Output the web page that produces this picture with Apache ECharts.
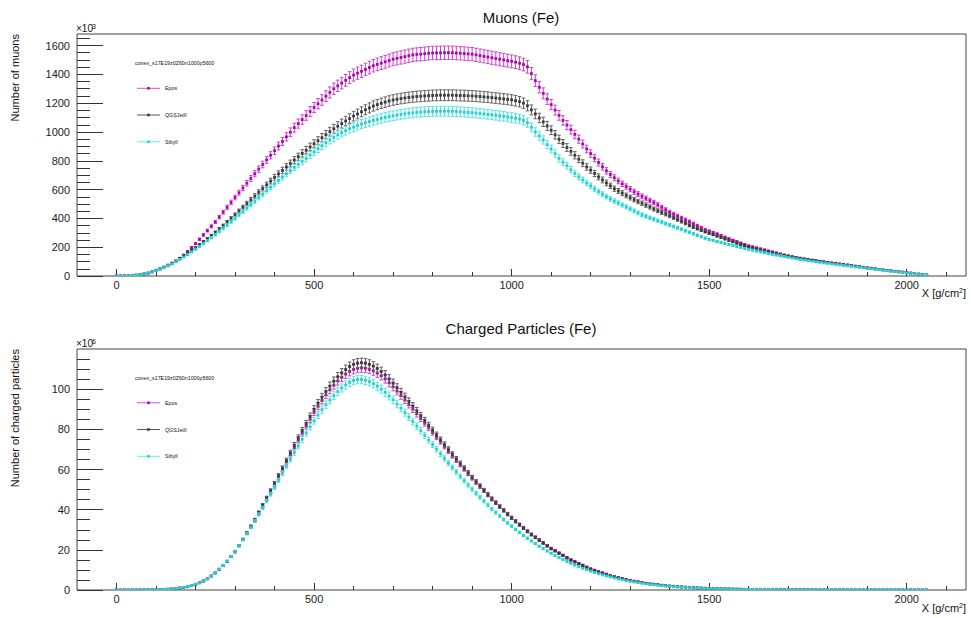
<!DOCTYPE html>
<html><head><meta charset="utf-8">
<script src="https://cdn.jsdelivr.net/npm/echarts@6/dist/echarts.min.js"></script>
<style>html,body{margin:0;padding:0;background:#fff}#c{width:971px;height:618px}</style>
</head><body><div id="c"></div>
<script>
// ---------------- data ----------------
const depth = [
0,10,20,30,40,50,60,70,80,90,100,110,120,130,140,150,160,170,180,190,
200,210,220,230,240,250,260,270,280,290,300,310,320,330,340,350,360,370,380,390,
400,410,420,430,440,450,460,470,480,490,500,510,520,530,540,550,560,570,580,590,
600,610,620,630,640,650,660,670,680,690,700,710,720,730,740,750,760,770,780,790,
800,810,820,830,840,850,860,870,880,890,900,910,920,930,940,950,960,970,980,990,
1000,1010,1020,1030,1040,1050,1060,1070,1080,1090,1100,1110,1120,1130,1140,1150,1160,1170,1180,1190,
1200,1210,1220,1230,1240,1250,1260,1270,1280,1290,1300,1310,1320,1330,1340,1350,1360,1370,1380,1390,
1400,1410,1420,1430,1440,1450,1460,1470,1480,1490,1500,1510,1520,1530,1540,1550,1560,1570,1580,1590,
1600,1610,1620,1630,1640,1650,1660,1670,1680,1690,1700,1710,1720,1730,1740,1750,1760,1770,1780,1790,
1800,1810,1820,1830,1840,1850,1860,1870,1880,1890,1900,1910,1920,1930,1940,1950,1960,1970,1980,1990,
2000,2010,2020,2030,2040,2050];

// muons, units of 10^3
const muEpos = [
0,0.5,1.5,3,4.5,6,9,14,20,28, 38,48,59,71,85,100,122,145,170,197,
225,255,285,315,345,375,409,443,477,511, 545,578,611,644,677,710,742,774,806,838,
870,902,934,966,998,1030,1058,1086,1114,1142, 1170,1196,1222,1248,1274,1300,1320,1339,1358,1377,
1395,1408,1421,1434,1447,1460,1469,1478,1487,1496, 1505,1511,1517,1523,1529,1535,1538,1540,1543,1546,
1548,1549,1549,1550,1550,1550,1548,1546,1544,1542, 1540,1535,1530,1525,1520,1515,1510,1505,1500,1495,
1490,1484,1477,1468,1452,1405,1356,1310,1268,1228, 1190,1152,1115,1080,1048,1016,983,950,916,882,
850,818,788,758,730,705,682,660,640,621, 603,585,568,553,539,524,510,494,477,460,
443,429,416,403,390,377,363,349,335,321, 311,301,291,280,269,258,248,238,228,218,
209,202,195,188,181,174,167,160,153,146, 140,134,129,124,119,115,111,107,103,99,
95,91,88,84,80,77,73,69,65,61, 57,54,50,46,42,39,36,33,30,27,
24,20,17,13,10,7];
const muQGS = [
0,0.3,1,2,3.5,6,9,14,20,29, 40,51,63,76,90,105,123,141,159,178,
197,217,238,259,281,303,326,350,375,400, 425,451,477,503,529,555,581,607,633,659,
685,709,733,757,781,805,828,851,873,896, 918,939,960,981,1002,1022,1040,1058,1076,1093,
1110,1125,1140,1154,1167,1180,1190,1199,1207,1215, 1222,1227,1232,1236,1240,1243,1246,1248,1250,1252,
1253,1254,1255,1255,1255,1255,1254,1253,1252,1251, 1250,1248,1246,1243,1241,1238,1235,1232,1229,1226,
1222,1217,1210,1200,1182,1153,1125,1097,1070,1042, 1012,980,949,920,892,865,838,811,783,757,
735,712,688,667,646,626,606,590,575,559, 544,530,517,505,492,479,465,453,441,430,
418,405,392,379,366,352,340,329,318,308, 298,288,278,268,258,248,238,229,220,211,
202,195,188,181,174,167,161,155,149,143, 137,132,127,122,117,113,109,105,101,97,
93,89,86,82,78,75,71,67,64,60, 56,53,49,46,42,39,35,32,29,26,
23,20,17,13,10,7];
const muSibyll = [
0,0.3,1,2,3.5,6,9,14,20,28, 38,49,60,72,85,99,115,132,149,167,
186,205,225,245,266,287,309,331,354,377, 400,424,448,472,496,520,545,569,593,617,
641,664,687,710,732,754,775,796,817,840, 862,884,905,925,945,963,980,995,1009,1022,
1034,1045,1055,1064,1072,1080,1087,1094,1101,1107, 1112,1117,1122,1126,1130,1133,1136,1138,1140,1142,
1143,1144,1144,1144,1144,1143,1142,1140,1138,1136, 1134,1131,1128,1125,1122,1119,1116,1112,1108,1104,
1100,1095,1089,1080,1064,1032,1000,972,944,912, 882,850,816,790,766,738,712,688,667,645,
626,605,586,568,551,535,520,507,493,480, 466,452,438,426,414,404,394,384,374,364,
354,344,334,324,314,303,293,283,273,263, 254,247,240,233,226,219,212,205,198,191,
185,179,173,167,161,155,150,145,140,135, 130,125,120,115,111,107,103,99,95,91,
87,84,80,77,73,70,67,63,60,57, 53,50,47,44,40,37,34,31,28,25,
22,19,16,12,9,6];

// charged particles, units of 10^6
const chEpos = [
0,0,0,0,0,0.01,0.02,0.03,0.05,0.08, 0.12,0.18,0.27,0.38,0.53,0.72,0.97,1.3,1.7,2.2,
2.8,3.6,4.5,5.6,7.0,8.5,10.3,12.2,14.3,16.6, 19.0,22.0,25.1,28.2,31.5,34.8,38.3,41.9,45.5,49.1,
52.7,56.4,60.1,63.8,67.5,71.2,74.8,78.3,81.8,85.2, 88.6,91.6,94.5,97.2,99.7,102.0,104.1,105.9,107.5,108.8,
109.8,110.4,110.6,110.4,109.9,109.1,108.0,106.7,105.1,103.2, 101.2,99.1,96.9,94.7,92.5,90.2,87.9,85.6,83.3,81.0,
78.7,76.4,74.1,71.7,69.4,67.0,64.8,62.6,60.4,58.1, 55.9,53.8,51.7,49.6,47.5,45.4,43.5,41.6,39.7,37.9,
36.1,34.4,32.7,31.0,29.4,27.8,26.4,25.0,23.6,22.2, 20.8,19.7,18.5,17.4,16.2,15.1,14.2,13.3,12.4,11.5,
10.6,9.9,9.2,8.6,7.9,7.2,6.7,6.2,5.7,5.3, 4.8,4.4,4.1,3.8,3.4,3.1,2.9,2.7,2.4,2.2,
2.0,1.85,1.7,1.55,1.4,1.26,1.16,1.06,0.97,0.88, 0.79,0.73,0.67,0.61,0.55,0.5,0.46,0.42,0.38,0.35,
0.31,0.29,0.26,0.24,0.21,0.19,0.18,0.16,0.15,0.13, 0.12,0.11,0.1,0.09,0.08,0.07,0.07,0.06,0.05,0.05,
0.04,0.04,0.03,0.03,0.03,0.02,0.02,0.02,0.02,0.02, 0.01,0.01,0.01,0.01,0.01,0.01,0.01,0.01,0.01,0.01,
0.01,0,0,0,0,0];
const chQGS = [
0,0,0,0,0,0.01,0.02,0.03,0.05,0.08, 0.12,0.18,0.27,0.38,0.53,0.72,0.97,1.3,1.7,2.2,
2.8,3.6,4.5,5.6,7.0,8.5,10.3,12.2,14.3,16.6, 19.0,22.1,25.3,28.4,31.7,35.0,38.6,42.2,45.8,49.4,
53.0,56.8,60.6,64.4,68.2,72.0,75.7,79.3,82.8,86.4, 90.0,93.0,96.0,98.8,101.5,104.0,106.2,108.1,109.8,111.3,
112.4,113.0,113.2,113.0,112.4,111.5,110.3,108.8,107.1,105.1, 103.0,100.7,98.4,96.1,93.8,91.5,89.1,86.7,84.3,81.9,
79.5,77.1,74.7,72.3,69.9,67.5,65.2,62.9,60.6,58.3, 56.0,53.8,51.7,49.6,47.4,45.3,43.4,41.5,39.6,37.7,
35.8,34.1,32.4,30.8,29.1,27.5,26.1,24.7,23.3,21.9, 20.5,19.4,18.2,17.1,15.9,14.8,13.9,13.0,12.1,11.2,
10.3,9.6,9.0,8.3,7.7,7.0,6.5,6.0,5.6,5.1, 4.6,4.3,4.0,3.6,3.3,3.0,2.8,2.6,2.3,2.1,
1.9,1.76,1.62,1.48,1.34,1.2,1.11,1.02,0.93,0.84, 0.75,0.69,0.64,0.58,0.53,0.47,0.43,0.4,0.36,0.33,
0.29,0.27,0.25,0.22,0.2,0.18,0.17,0.15,0.14,0.12, 0.11,0.1,0.09,0.08,0.08,0.07,0.06,0.05,0.05,0.04,
0.04,0.03,0.03,0.03,0.03,0.02,0.02,0.02,0.02,0.02, 0.01,0.01,0.01,0.01,0.01,0.01,0.01,0.01,0.01,0.01,
0.01,0,0,0,0,0];
const chSibyll = [
0,0,0,0,0,0.01,0.02,0.03,0.05,0.08, 0.13,0.19,0.28,0.4,0.55,0.75,1.0,1.35,1.75,2.25,
2.9,3.7,4.6,5.7,7.1,8.6,10.4,12.3,14.4,16.7, 19.1,22.0,25.0,28.0,31.1,34.3,37.6,40.9,44.3,47.7,
51.1,54.6,58.1,61.6,65.0,68.4,71.7,75.0,78.2,81.3, 84.3,87.1,89.8,92.3,94.6,96.8,98.8,100.6,102.1,103.4,
104.3,104.8,104.8,104.4,103.7,102.7,101.5,100.0,98.4,96.6, 94.7,92.6,90.5,88.3,86.1,83.9,81.6,79.3,77.0,74.7,
72.4,70.1,67.8,65.5,63.2,61.0,58.8,56.6,54.4,52.3, 50.2,48.2,46.2,44.2,42.3,40.4,38.6,36.8,35.1,33.4,
31.8,30.2,28.7,27.2,25.8,24.4,23.1,21.8,20.6,19.4, 18.3,17.2,16.2,15.2,14.2,13.3,12.4,11.6,10.8,10.1,
9.4,8.7,8.1,7.5,7.0,6.5,6.0,5.5,5.1,4.7, 4.3,4.0,3.7,3.4,3.1,2.8,2.6,2.4,2.2,2.0,
1.8,1.65,1.5,1.38,1.26,1.15,1.05,0.96,0.87,0.79, 0.72,0.66,0.6,0.55,0.5,0.45,0.41,0.38,0.34,0.31,
0.28,0.26,0.23,0.21,0.19,0.17,0.16,0.14,0.13,0.12, 0.11,0.1,0.09,0.08,0.07,0.07,0.06,0.05,0.05,0.04,
0.04,0.03,0.03,0.03,0.02,0.02,0.02,0.02,0.02,0.02, 0.01,0.01,0.01,0.01,0.01,0.01,0.01,0.01,0.01,0.01,
0.01,0,0,0,0,0];

// relative uncertainty of each model
const relErrMuons = [0.03, 0.03, 0.03];
const relErrCharged = [0.02, 0.02, 0.02];

const modelNames = ['Epos', 'QGSJetII', 'Sibyll'];
const legendHeader = 'conex_s17E19z0Z60n1000p5600';

// tick labels / tick positions
const xMajorTicks = [0, 500, 1000, 1500, 2000];
const xMinorTicks = [100,200,300,400,600,700,800,900,1100,1200,1300,1400,1600,1700,1800,1900,2100];
const muMajorTicks = [0,200,400,600,800,1000,1200,1400,1600];
const muMinorTicks = [50,100,150,250,300,350,450,500,550,650,700,750,850,900,950,1050,1100,1150,1250,1300,1350,1450,1500,1550,1650];
const chMajorTicks = [0,20,40,60,80,100];
const chMinorTicks = [5,10,15,25,30,35,45,50,55,65,70,75,85,90,95,105,110,115];

// ---------------- styles / layout ----------------
const FONT = '"Liberation Sans", Arial, Helvetica, sans-serif';
const markColors = ['#b000b0', '#3a3a3a', '#20d0d0'];
const barColors  = ['#cc40cc', '#606060', '#50e4e4'];
const legendLineColors = ['#d050d0', '#555555', '#60eeee'];
const G = [{left:77, top:34, width:889, height:242}, {left:77, top:349, width:889, height:241}];
const plainNum = v => String(v);

function errRender(mc, bc) {
  return function (params, api) {
    const p = api.coord([api.value(0), api.value(1)]);
    const lo = api.coord([api.value(0), api.value(2)]);
    const hi = api.coord([api.value(0), api.value(3)]);
    const cw = 1.8;
    const children = [
      {type:'line', shape:{x1:p[0], y1:lo[1], x2:p[0], y2:hi[1]}, style:{stroke:bc, lineWidth:1}},
      {type:'line', shape:{x1:p[0]-cw, y1:lo[1], x2:p[0]+cw, y2:lo[1]}, style:{stroke:bc, lineWidth:1}},
      {type:'line', shape:{x1:p[0]-cw, y1:hi[1], x2:p[0]+cw, y2:hi[1]}, style:{stroke:bc, lineWidth:1}},
      {type:'rect', shape:{x:p[0]-1.4, y:p[1]-1.4, width:2.8, height:2.8}, style:{fill:mc}}
    ];
    return {type:'group', children};
  };
}

function mkSeries(k, vals, rel, xi, yi) {
  return {
    type:'custom', name:modelNames[k], xAxisIndex:xi, yAxisIndex:yi, clip:true,
    data: depth.map((x, i) => [x, vals[i], vals[i]*(1-rel), vals[i]*(1+rel)]),
    encode:{x:0, y:[1,2,3]},
    renderItem: errRender(markColors[k], barColors[k])
  };
}

function xAxes(g) {
  const base = {gridIndex:g, type:'value', min:-100, max:2150, position:'bottom',
    axisLine:{show:false, onZero:false}, splitLine:{show:false}};
  return [
    Object.assign({}, base, {
      axisTick:{show:true, inside:true, length:7, customValues:xMajorTicks, lineStyle:{color:'#333', width:1}},
      axisLabel:{show:true, customValues:xMajorTicks, formatter:plainNum, margin:3, color:'#222', fontSize:11, fontFamily:FONT}
    }),
    Object.assign({}, base, {
      axisTick:{show:true, inside:true, length:4, customValues:xMinorTicks, lineStyle:{color:'#333', width:1}},
      axisLabel:{show:false}
    })
  ];
}
function yAxes(g, max, major, minor) {
  const base = {gridIndex:g, type:'value', min:0, max:max, position:'left',
    axisLine:{show:false, onZero:false}, splitLine:{show:false}};
  return [
    Object.assign({}, base, {
      axisTick:{show:true, inside:true, length:26, customValues:major, lineStyle:{color:'#333', width:1}},
      axisLabel:{show:true, customValues:major, formatter:plainNum, margin:7, color:'#222', fontSize:11, fontFamily:FONT}
    }),
    Object.assign({}, base, {
      axisTick:{show:true, inside:true, length:13, customValues:minor, lineStyle:{color:'#333', width:1}},
      axisLabel:{show:false}
    })
  ];
}

function legend(oy) {
  const els = [{type:'text', x:135, y:63+oy, style:{text:legendHeader, font:'5.3px '+FONT, fill:'#111', align:'left', verticalAlign:'middle', textAlign:'left', textVerticalAlign:'middle'}}];
  const ys = [88.3, 115, 141.8];
  modelNames.forEach((n, k) => {
    const y = ys[k] + oy;
    els.push({type:'line', shape:{x1:137, y1:y, x2:160, y2:y}, style:{stroke:legendLineColors[k], lineWidth:1}});
    els.push({type:'rect', shape:{x:147.2, y:y-1.3, width:2.6, height:2.6}, style:{fill:markColors[k]}});
    els.push({type:'text', x:165, y:y, style:{text:n, font:'5.3px '+FONT, fill:'#111', align:'left', verticalAlign:'middle', textAlign:'left', textVerticalAlign:'middle'}});
  });
  return els;
}

function txt(x, y, text, size, align, vAlign, extra) {
  return Object.assign({type:'text', x, y, style:{text, font:size+'px '+FONT, fill:'#111', align, verticalAlign:vAlign, textAlign:align, textVerticalAlign:vAlign}}, extra||{});
}

const graphics = [
  txt(521, 17, 'Muons (Fe)', 15, 'center', 'middle'),
  txt(521, 328, 'Charged Particles (Fe)', 15, 'center', 'middle'),
  txt(15, 34, 'Number of muons', 11, 'right', 'middle', {rotation: Math.PI/2}),
  txt(15, 349, 'Number of charged particles', 11, 'right', 'middle', {rotation: Math.PI/2}),
  txt(76, 33, '×10', 10, 'left', 'bottom'),
  txt(92, 23, '3', 7, 'left', 'top'),
  txt(76, 348, '×10', 10, 'left', 'bottom'),
  txt(92, 338, '6', 7, 'left', 'top'),
  {type:'text', right:5, top:287, style:{rich:{a:{fontSize:11, fontFamily:FONT, fill:'#111'}, b:{fontSize:7, fontFamily:FONT, fill:'#111', verticalAlign:'top'}}, text:'{a|X [g/cm}{b|2}{a|]}'}},
  {type:'text', right:5, top:602, style:{rich:{a:{fontSize:11, fontFamily:FONT, fill:'#111'}, b:{fontSize:7, fontFamily:FONT, fill:'#111', verticalAlign:'top'}}, text:'{a|X [g/cm}{b|2}{a|]}'}}
].concat(legend(0), legend(314.5));

const option = {
  animation:false,
  backgroundColor:'#ffffff',
  grid: G.map(g => Object.assign({show:true, borderColor:'#444', borderWidth:1, containLabel:false}, g)),
  xAxis: xAxes(0).concat(xAxes(1)),
  yAxis: yAxes(0, 1680, muMajorTicks, muMinorTicks).concat(yAxes(1, 120, chMajorTicks, chMinorTicks)),
  series: [
    mkSeries(0, muEpos, relErrMuons[0], 0, 0),
    mkSeries(1, muQGS, relErrMuons[1], 0, 0),
    mkSeries(2, muSibyll, relErrMuons[2], 0, 0),
    mkSeries(0, chEpos, relErrCharged[0], 2, 2),
    mkSeries(1, chQGS, relErrCharged[1], 2, 2),
    mkSeries(2, chSibyll, relErrCharged[2], 2, 2)
  ],
  graphic: graphics
};
const chart = echarts.init(document.getElementById('c'), null, {renderer:'svg'});
chart.setOption(option);
</script>
</body></html>
